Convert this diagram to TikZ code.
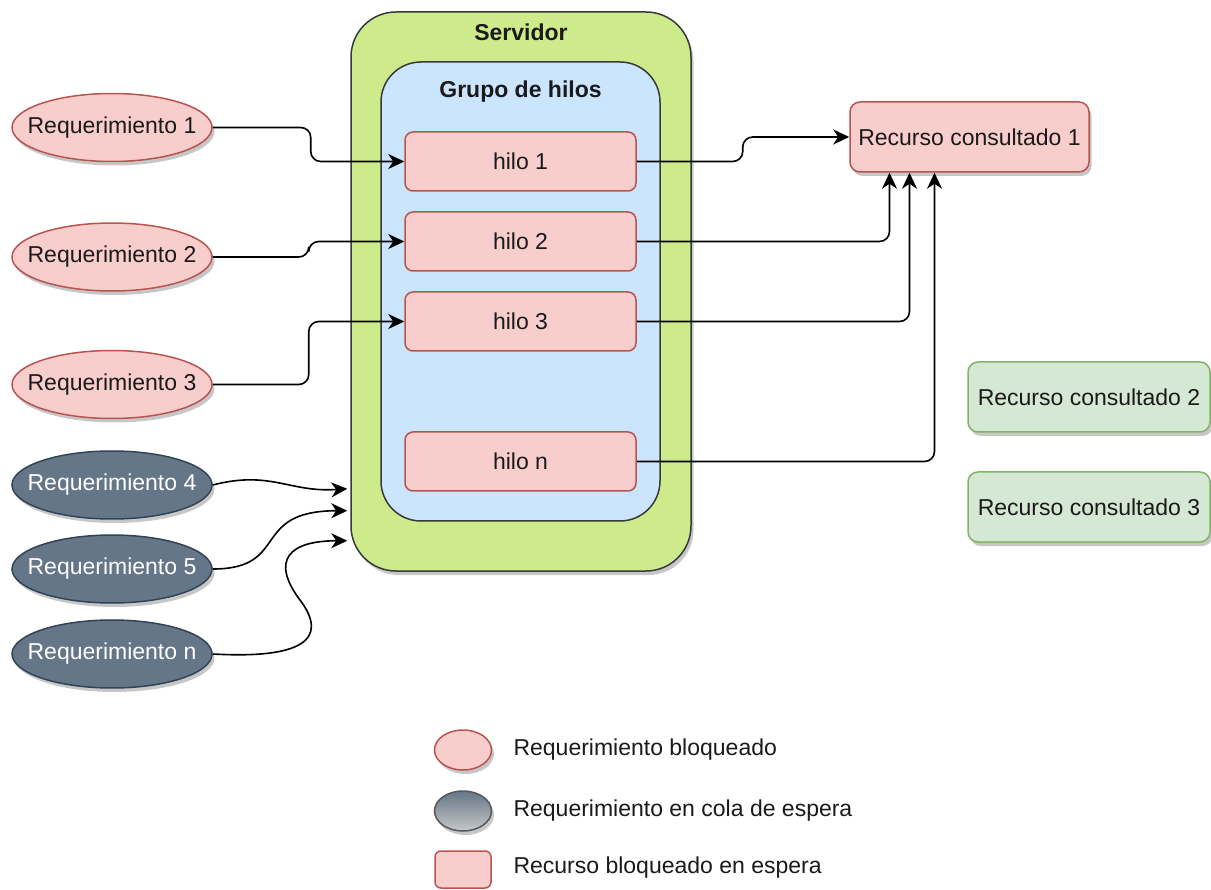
\documentclass[tikz,border=0pt]{standalone}
\usepackage{fontspec}
\setmainfont{Liberation Sans}
\usetikzlibrary{shapes.geometric,arrows.meta,shadows,calc}

\definecolor{srvfill}{HTML}{CDEB8B}
\definecolor{grpfill}{HTML}{CCE5FF}
\definecolor{boxline}{HTML}{36393D}
\definecolor{pinkfill}{HTML}{F8CECC}
\definecolor{pinkline}{HTML}{B85450}
\definecolor{darkfill}{HTML}{647687}
\definecolor{darkline}{HTML}{314354}
\definecolor{greenfill}{HTML}{D5E8D4}
\definecolor{greenline}{HTML}{82B366}
\definecolor{txt}{HTML}{1A1A1A}

\tikzset{
  every node/.style={font=\fontsize{23}{27}\selectfont, text=txt},
  soft shadow/.style={drop shadow={shadow xshift=2.5pt, shadow yshift=-4pt, opacity=0.22, fill=black}},
  container/.style={draw=boxline, line width=1.5pt, rectangle, inner sep=0pt},
  % request ellipses keep a fixed size; the caption sits on top as a centred label
  reqpink/.style={ellipse, draw=pinkline, fill=pinkfill, line width=1.5pt, inner sep=0pt,
    minimum width=200pt, minimum height=68pt, soft shadow, label={[text=txt]center:#1}},
  reqdark/.style={ellipse, draw=darkline, fill=darkfill, line width=1.5pt, inner sep=0pt,
    minimum width=200pt, minimum height=68pt, soft shadow, label={[text=white]center:#1}},
  thread/.style={rectangle, rounded corners=8pt, draw=pinkline, fill=pinkfill, line width=1.5pt,
    minimum width=231pt, minimum height=59pt, inner sep=0pt},
  resbusy/.style={rectangle, rounded corners=10pt, draw=pinkline, fill=pinkfill, line width=1.5pt,
    minimum width=239pt, minimum height=70pt, inner sep=0pt, soft shadow},
  resfree/.style={rectangle, rounded corners=10pt, draw=greenline, fill=greenfill, line width=1.5pt,
    minimum width=242pt, minimum height=70pt, inner sep=0pt, soft shadow},
  link/.style={draw=black, line width=1.6pt, -{Stealth[length=16pt,width=15pt,inset=5pt]}},
  title/.style={font=\bfseries\fontsize{23}{27}\selectfont},
  legendtext/.style={anchor=west},
}

\begin{document}
\begin{tikzpicture}[x=1pt,y=-1pt]
  \useasboundingbox (0,0) rectangle (1211,890);

  % server and thread pool containers
  \node[container, fill=srvfill, rounded corners=45pt, minimum width=340pt, minimum height=559pt,
        soft shadow] (srv) at (521,291.5) {};
  \node[container, fill=grpfill, rounded corners=40pt, minimum width=279pt, minimum height=459pt]
        (grp) at (520.5,291.5) {};
  \node[title] (srvlabel) at (521,32) {Servidor};
  \node[title] (grplabel) at (520.5,92) {Grupo de hilos};

  % threads
  \node[thread] (h1) at (520.5,161.5) {hilo 1};
  \node[thread] (h2) at (520.5,241.5) {hilo 2};
  \node[thread] (h3) at (520.5,321.5) {hilo 3};
  \node[thread] (hn) at (520.5,461.5) {hilo n};

  % resources
  \node[resbusy] (r1) at (969.5,137) {Recurso consultado 1};
  \node[resfree] (r2) at (1089,397) {Recurso consultado 2};
  \node[resfree] (r3) at (1089,507) {Recurso consultado 3};

  % requests
  \node[reqpink=Requerimiento 1] (req1) at (112,127.5) {};
  \node[reqpink=Requerimiento 2] (req2) at (112,257) {};
  \node[reqpink=Requerimiento 3] (req3) at (112,384.5) {};
  \node[reqdark=Requerimiento 4] (req4) at (112,485) {};
  \node[reqdark=Requerimiento 5] (req5) at (112,569) {};
  \node[reqdark=Requerimiento n] (reqn) at (112,654) {};

  % entry points on the server edge for queued requests
  \coordinate (in4) at ([xshift=-3pt,yshift=83pt]srv.south west);
  \coordinate (in5) at ([xshift=-3pt,yshift=61pt]srv.south west);
  \coordinate (inn) at ([xshift=-3pt,yshift=31pt]srv.south west);
  \coordinate (loop) at (300,600);

  % requests assigned to threads
  \draw[link, rounded corners=10pt] (req1.east) -- ([xshift=98pt]req1.east) |- (h1.west);
  \draw[link, rounded corners=10pt] (req2.east) -- ([xshift=96pt]req2.east) |- (h2.west);
  \draw[link, rounded corners=10pt] (req3.east) -- ([xshift=96pt]req3.east) |- (h3.west);

  % threads waiting on the resource
  \draw[link, rounded corners=10pt] (h1.east) -- ([xshift=106pt]h1.east) |- (r1.west);
  \draw[link, rounded corners=10pt] (h2.east) -| ([xshift=-80pt]r1.south);
  \draw[link, rounded corners=10pt] (h3.east) -| ([xshift=-60pt]r1.south);
  \draw[link, rounded corners=10pt] (hn.east) -| ([xshift=-35pt]r1.south);

  % queued requests
  \draw[link] (req4.east) .. controls +(58,-15) and +(-58,4) .. (in4);
  \draw[link] (req5.east) .. controls +(78,0) and +(-98,0) .. (in5);
  \draw[link] (reqn.east) .. controls +(88,5) and +(30,40) .. (loop)
                          .. controls +(-30,-40) and +(-58,0) .. (inn);

  % legend
  \node[ellipse, draw=pinkline, fill=pinkfill, line width=1.5pt, inner sep=0pt,
        minimum width=57pt, minimum height=40pt, soft shadow] (leg1) at (463,750) {};
  \node[ellipse, draw=black!65, top color=darkfill, bottom color=black!22, line width=1.5pt,
        inner sep=0pt, minimum width=57pt, minimum height=40pt, soft shadow] (leg2) at (463,811) {};
  \node[rectangle, rounded corners=6pt, draw=pinkline, fill=pinkfill, line width=1.5pt, inner sep=0pt,
        minimum width=56pt, minimum height=37pt] (leg3) at (463,869.5) {};
  \node[legendtext] (lt1) at (510,750) {Requerimiento bloqueado};
  \node[legendtext] (lt2) at (510,811) {Requerimiento en cola de espera};
  \node[legendtext] (lt3) at (510,868) {Recurso bloqueado en espera};
\end{tikzpicture}
\end{document}
